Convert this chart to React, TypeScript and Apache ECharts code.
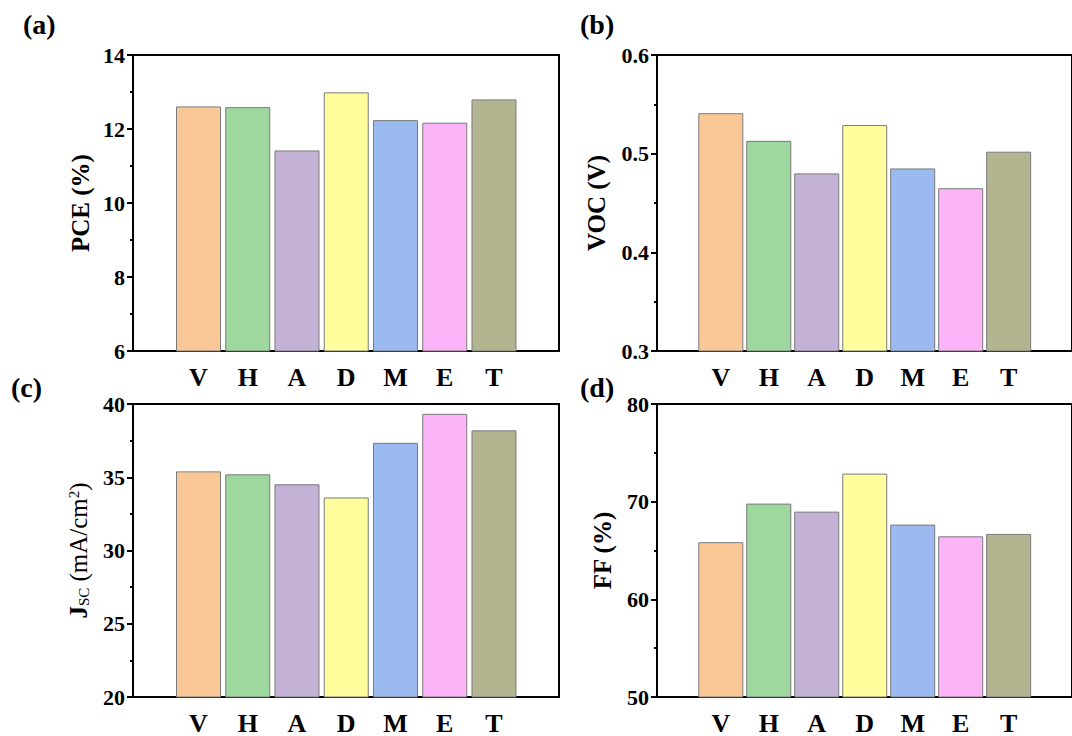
import React, { useEffect, useRef } from "react";
import * as echarts from "echarts";

const categories = ["V", "H", "A", "D", "M", "E", "T"];
const barColors = ["#FAC896", "#9ED89E", "#C3B1D6", "#FFFD9C", "#9BBAF0", "#FBB4F8", "#B2B590"];
const pceValues = [12.61, 12.59, 11.42, 12.99, 12.24, 12.17, 12.8];
const vocValues = [0.541, 0.513, 0.48, 0.529, 0.485, 0.465, 0.502];
const jscValues = [35.4, 35.2, 34.52, 33.62, 37.35, 39.33, 38.2];
const ffValues = [65.85, 69.8, 68.98, 72.87, 67.65, 66.45, 66.7];
const yRanges = [
  { min: 6, max: 14, interval: 2 },
  { min: 0.3, max: 0.6, interval: 0.1 },
  { min: 20, max: 40, interval: 5 },
  { min: 50, max: 80, interval: 10 },
];
const panelLetters = ["(a)", "(b)", "(c)", "(d)"];

const FONT = "'Liberation Serif', 'Times New Roman', serif";

export default function App() {
  const ref = useRef<HTMLDivElement>(null);
  useEffect(() => {
    if (!ref.current) return;
    const chart = echarts.init(ref.current, null, { renderer: "svg" });
    const grids = [
      { left: 133, top: 55, width: 426, height: 296 },
      { left: 657, top: 55, width: 426, height: 296 },
      { left: 133, top: 404, width: 426, height: 297 },
      { left: 657, top: 404, width: 426, height: 297 },
    ];
    const allValues = [pceValues, vocValues, jscValues, ffValues];
    const names: any[] = [
      "PCE (%)",
      "VOC (V)",
      "{j|J}{sub|SC}{n| (mA/cm}{sup|2}{n|)}",
      "FF (%)",
    ];
    const nameGaps = [40, 48, 42, 42];
    const option: any = {
      animation: false,
      backgroundColor: "#fff",
      grid: grids.map((g) => ({ ...g, show: true, borderColor: "#000", borderWidth: 2, backgroundColor: "transparent" })),
      xAxis: grids.map((_, i) => ({
        type: "value",
        gridIndex: i,
        min: -1.33,
        max: 7.32,
        axisLine: { show: true, onZero: false, lineStyle: { color: "#000", width: 2 } },
        axisTick: { show: false },
        splitLine: { show: false },
        axisLabel: {
          customValues: [0, 1, 2, 3, 4, 5, 6],
          formatter: (v: number) => categories[Math.round(v)] ?? "",
          color: "#000",
          fontFamily: FONT,
          fontWeight: "bold",
          fontSize: 26,
          margin: 13,
        },
      })),
      yAxis: grids.map((_, i) => ({
        type: "value",
        gridIndex: i,
        min: yRanges[i].min,
        max: yRanges[i].max,
        interval: yRanges[i].interval,
        name: names[i],
        nameLocation: "middle",
        nameGap: nameGaps[i],
        nameTextStyle: {
          color: "#000",
          fontFamily: FONT,
          fontWeight: "bold",
          fontSize: 25,
          rich: {
            j: { fontFamily: FONT, fontWeight: "bold", fontSize: 25, color: "#000" },
            sub: { fontFamily: FONT, fontWeight: "normal", fontSize: 15, color: "#000", verticalAlign: "bottom", padding: [8, 0, 0, 0] },
            n: { fontFamily: FONT, fontWeight: "normal", fontSize: 25, color: "#000" },
            sup: { fontFamily: FONT, fontWeight: "normal", fontSize: 15, color: "#000", verticalAlign: "top", padding: [0, 0, 8, 0] },
          },
        },
        axisLine: { show: true, onZero: false, lineStyle: { color: "#000", width: 2 } },
        axisTick: { show: true, inside: false, length: 6, lineStyle: { color: "#000", width: 2 } },
        minorTick: { show: true, splitNumber: 2, length: 3, lineStyle: { color: "#000", width: 2 } },
        splitLine: { show: false },
        axisLabel: {
          color: "#000",
          fontFamily: FONT,
          fontWeight: "bold",
          fontSize: 22,
          margin: 8,
          formatter: (v: number) => (i === 1 ? v.toFixed(1) : String(Math.round(v))),
        },
      })),
      series: allValues.map((vals, i) => ({
        type: "bar",
        xAxisIndex: i,
        yAxisIndex: i,
        barWidth: 45,
        data: vals.map((v, k) => ({
          value: [k, v],
          itemStyle: { color: barColors[k], borderColor: "#7a7a7a", borderWidth: 1 },
        })),
      })),
      graphic: [
        { x: 23, y: 10 },
        { x: 580, y: 10 },
        { x: 11, y: 373 },
        { x: 580, y: 373 },
      ].map((p, i) => ({
        type: "text",
        x: p.x,
        y: p.y,
        style: { text: panelLetters[i], fill: "#000", font: `bold 28px ${FONT}` },
      })),
    };
    chart.setOption(option);
    return () => chart.dispose();
  }, []);
  return <div ref={ref} style={{ position: "fixed", left: 0, top: 0, width: 1072, height: 736, background: "#fff" }} />;
}
